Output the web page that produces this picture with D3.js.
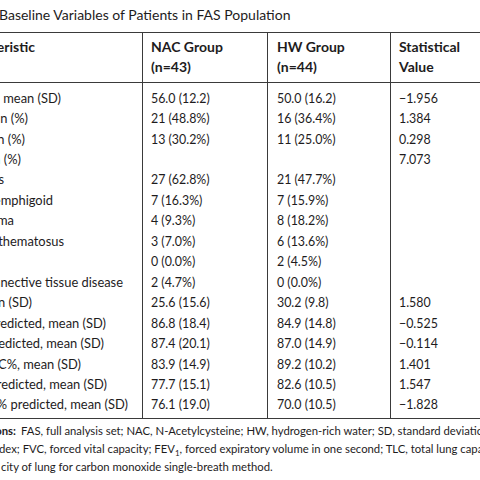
<!DOCTYPE html>
<html><head><meta charset="utf-8">
<script src="https://cdn.jsdelivr.net/npm/d3@7"></script>
<style>body{margin:0;background:#fff;overflow:hidden}</style>
</head><body>
<script>
// ---- data ----
const titlePrefix = "Table 1";
const titleText = "Baseline Variables of Patients in FAS Population";
const headers = [["Characteristic"], ["NAC Group", "(n=43)"], ["HW Group", "(n=44)"], ["Statistical", "Value"]];
const rowLabels = [
  "Age, years, mean (SD)", "Male, n (%)", "Smoking history, n (%)", "Primary disease, n (%)",
  "Dermatomyositis", "Bullous pemphigoid", "Scleroderma", "Systemic lupus erythematosus",
  "Others", "Undifferentiated connective tissue disease", "Course, months, mean (SD)",
  "FVC% predicted, mean (SD)", "FEV1% predicted, mean (SD)", "FEV1/FVC%, mean (SD)",
  "TLC% predicted, mean (SD)", "DLCO-SB% predicted, mean (SD)"
];
const nacValues = ["56.0 (12.2)", "21 (48.8%)", "13 (30.2%)", "", "27 (62.8%)", "7 (16.3%)", "4 (9.3%)", "3 (7.0%)",
  "0 (0.0%)", "2 (4.7%)", "25.6 (15.6)", "86.8 (18.4)", "87.4 (20.1)", "83.9 (14.9)", "77.7 (15.1)", "76.1 (19.0)"];
const hwValues = ["50.0 (16.2)", "16 (36.4%)", "11 (25.0%)", "", "21 (47.7%)", "7 (15.9%)", "8 (18.2%)", "6 (13.6%)",
  "2 (4.5%)", "0 (0.0%)", "30.2 (9.8)", "84.9 (14.8)", "87.0 (14.9)", "89.2 (10.2)", "82.6 (10.5)", "70.0 (10.5)"];
const statValues = ["\u22121.956", "1.384", "0.298", "7.073", "", "", "", "", "", "",
  "1.580", "\u22120.525", "\u22120.114", "1.401", "1.547", "\u22121.828"];
const footBold = "Abbreviations:";
const footLine1 = "FAS, full analysis set; NAC, N-Acetylcysteine; HW, hydrogen-rich water; SD, standard deviation; BMI, body mass in";
const footLine2Hidden = "in";
const footLine2a = "dex; FVC, forced vital capacity; FEV";
const footLine2b = ", forced expiratory volume in one second; TLC, total lung capacity; DLCO-SB, diffusing capa";
const footLine3 = "city of lung for carbon monoxide single-breath method.";

// ---- layout ----
const W = 480, H = 480;
const FONT = "Lato, 'Open Sans', sans-serif";
const INK = "#1e1c1d";
const labelEnds = [61, 28, 25, 21, 4, 53, 14, 64, -3, 123, 32, 106, 104, 81, 107, 128];
const colStart = [0, 151, 277, 399];
const vLines = [142, 267, 390];
const yTop = 32, yHead = 82, yBottom = 418;

const svg = d3.select("body").append("svg").attr("width", W).attr("height", H)
  .style("font-family", FONT).style("fill", INK);

const rowIdx = d3.range(rowLabels.length);
const y = d3.scalePoint().domain(rowIdx).range([98.3, 405]);
const base = 4.4; // center -> baseline

// title
svg.append("text").attr("x", -6).attr("y", 20).attr("text-anchor", "end")
  .attr("font-size", 14).attr("font-weight", "bold").text(titlePrefix);
svg.append("text").attr("x", -1).attr("y", 20).attr("font-size", 14).text(titleText);

// rules
const g = svg.append("g").attr("stroke", "#3a3a3a").attr("stroke-width", 1).attr("shape-rendering", "crispEdges");
[yTop, yHead, yBottom].forEach(v => g.append("line").attr("x1", 0).attr("x2", W).attr("y1", v + 0.5).attr("y2", v + 0.5));
vLines.forEach(v => g.append("line").attr("x1", v + 0.5).attr("x2", v + 0.5).attr("y1", yTop).attr("y2", yBottom));

// headers
const headY = [47, 67.5];
headers.forEach((lines, c) => {
  lines.forEach((t, k) => {
    const tx = svg.append("text").attr("y", headY[k] + 4.8).attr("font-size", 14).attr("font-weight", "bold").text(t);
    if (c === 0) tx.attr("x", 35).attr("text-anchor", "end");
    else tx.attr("x", colStart[c]);
  });
});

// body
const body = svg.append("g").attr("font-size", 12.4);
body.selectAll("text.lab").data(rowIdx).join("text").attr("class", "lab")
  .attr("font-size", 12.9)
  .attr("x", i => labelEnds[i]).attr("y", i => y(i) + base).attr("text-anchor", "end").text(i => rowLabels[i]);
[nacValues, hwValues, statValues].forEach((vals, c) => {
  body.selectAll("text.c" + c).data(rowIdx).join("text").attr("class", "c" + c)
    .attr("x", colStart[c + 1]).attr("y", i => y(i) + base).text(i => vals[i]);
});

// footnote
const foot = svg.append("g").attr("font-size", 11.3);
const fy = [431.5, 449.5, 467];
foot.append("text").attr("x", 16).attr("y", fy[0] + 3.9).attr("text-anchor", "end").attr("font-weight", "bold").text(footBold);
foot.append("text").attr("x", 21).attr("y", fy[0] + 3.9).text(footLine1);
foot.append("text").attr("x", -1).attr("y", fy[1] + 3.9).attr("text-anchor", "end").text(footLine2Hidden);
const l2 = foot.append("text").attr("x", -1).attr("y", fy[1] + 3.9);
l2.append("tspan").text(footLine2a);
l2.append("tspan").attr("font-size", 8).attr("dy", 2.5).text("1");
l2.append("tspan").attr("dy", -2.5).text(footLine2b);
foot.append("text").attr("x", 1).attr("y", fy[2] + 3.9).text(footLine3);
</script>
</body></html>
